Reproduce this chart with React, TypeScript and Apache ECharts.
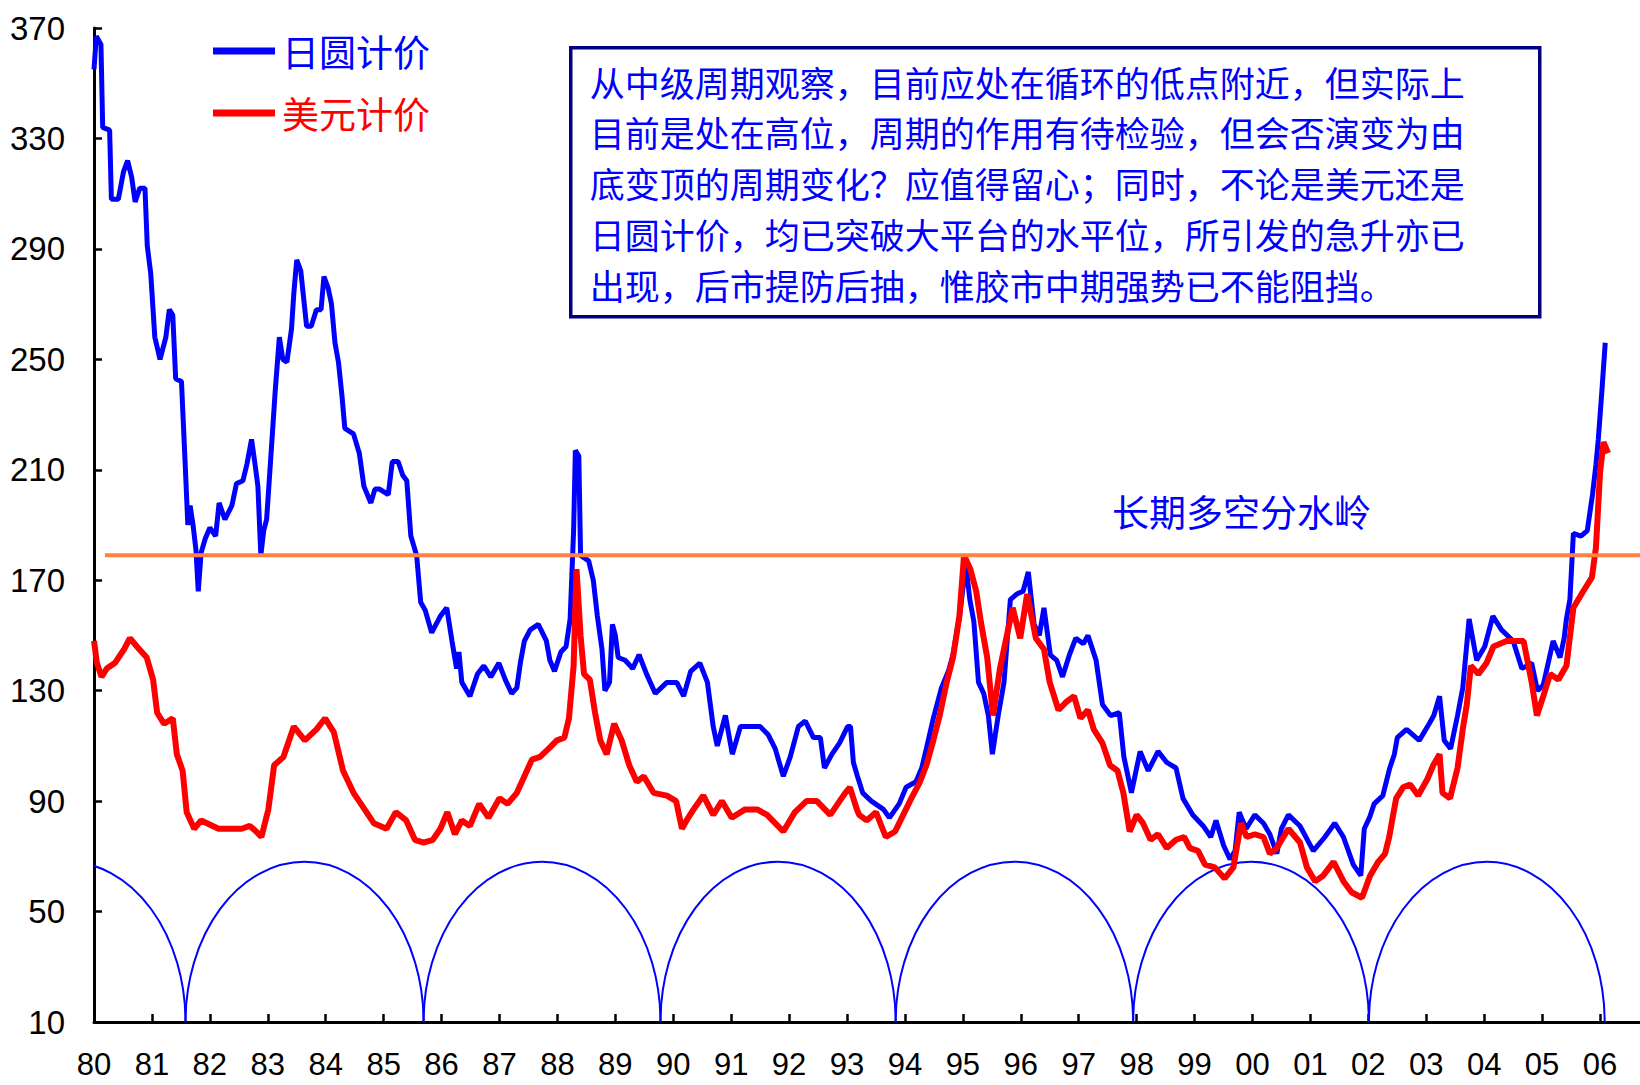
import React, { useEffect, useRef } from 'react';
import * as echarts from 'echarts';

// ---------------- data ----------------
const jpySeriesName = '日圆计价';
const usdSeriesName = '美元计价';

// 日圆计价 (year, index)
const jpyPrice: [number, number][] = [
  [1980.0, 355], [1980.04, 367], [1980.12, 364], [1980.15, 334], [1980.27, 333], [1980.3, 308],
  [1980.42, 308], [1980.51, 318], [1980.58, 322], [1980.65, 316], [1980.71, 307], [1980.79, 312],
  [1980.88, 312], [1980.92, 291], [1980.98, 281], [1981.05, 258], [1981.14, 250], [1981.24, 258],
  [1981.3, 268], [1981.36, 266], [1981.41, 243], [1981.51, 242], [1981.57, 214], [1981.62, 190],
  [1981.66, 197], [1981.71, 190], [1981.76, 181], [1981.8, 166], [1981.85, 180], [1981.92, 185],
  [1982.0, 189], [1982.1, 186], [1982.16, 198], [1982.26, 192], [1982.38, 197], [1982.46, 205],
  [1982.57, 206], [1982.64, 212], [1982.72, 221], [1982.78, 212], [1982.83, 204], [1982.88, 179],
  [1982.93, 188], [1982.98, 192], [1983.07, 220], [1983.13, 239], [1983.2, 258], [1983.26, 250],
  [1983.33, 249], [1983.41, 261], [1983.45, 274], [1983.5, 286], [1983.57, 282], [1983.63, 270],
  [1983.67, 262], [1983.75, 262], [1983.84, 268], [1983.92, 268], [1983.97, 280], [1984.04, 276],
  [1984.1, 270], [1984.16, 256], [1984.22, 249], [1984.28, 237], [1984.33, 225], [1984.48, 223],
  [1984.58, 216], [1984.66, 204], [1984.78, 198], [1984.85, 203], [1984.93, 203], [1985.08, 201],
  [1985.15, 213], [1985.25, 213], [1985.33, 208], [1985.4, 206], [1985.47, 186], [1985.57, 179],
  [1985.64, 162], [1985.72, 159], [1985.83, 151], [1985.98, 157], [1986.09, 160], [1986.18, 148],
  [1986.26, 138], [1986.3, 144], [1986.35, 133], [1986.49, 128], [1986.62, 136], [1986.73, 139],
  [1986.85, 135], [1986.99, 140], [1987.1, 134], [1987.21, 129], [1987.3, 131], [1987.36, 140],
  [1987.43, 148], [1987.53, 152], [1987.67, 154], [1987.81, 148], [1987.87, 141], [1987.95, 137],
  [1988.06, 144], [1988.15, 146], [1988.22, 156], [1988.28, 188], [1988.31, 217], [1988.37, 215],
  [1988.4, 179], [1988.54, 177], [1988.62, 170], [1988.69, 157], [1988.77, 145], [1988.82, 130],
  [1988.9, 133], [1988.95, 154], [1989.0, 150], [1989.05, 142], [1989.17, 141], [1989.3, 138],
  [1989.41, 143], [1989.54, 136], [1989.69, 129], [1989.89, 133], [1990.06, 133], [1990.18, 128],
  [1990.3, 137], [1990.46, 140], [1990.59, 133], [1990.69, 117], [1990.76, 110], [1990.9, 121],
  [1991.02, 107], [1991.16, 117], [1991.39, 117], [1991.5, 117], [1991.64, 114], [1991.76, 109],
  [1991.9, 99], [1992.02, 106], [1992.16, 117], [1992.28, 119], [1992.42, 113], [1992.54, 113],
  [1992.61, 102], [1992.74, 107], [1992.87, 111], [1993.01, 117], [1993.06, 117], [1993.11, 104],
  [1993.18, 99], [1993.27, 93], [1993.42, 90], [1993.63, 87], [1993.73, 84], [1993.8, 86],
  [1993.9, 89], [1994.02, 95], [1994.19, 97], [1994.29, 102], [1994.37, 109], [1994.49, 120],
  [1994.63, 131], [1994.75, 137], [1994.83, 143], [1994.95, 158], [1995.05, 176], [1995.12, 163],
  [1995.19, 155], [1995.27, 133], [1995.36, 129], [1995.44, 121], [1995.51, 107], [1995.61, 121],
  [1995.71, 133], [1995.82, 163], [1995.93, 165], [1996.04, 166], [1996.13, 173], [1996.23, 154],
  [1996.32, 150], [1996.4, 160], [1996.51, 143], [1996.62, 141], [1996.72, 135], [1996.84, 143],
  [1996.95, 149], [1997.08, 147], [1997.16, 150], [1997.3, 141], [1997.41, 125], [1997.55, 121],
  [1997.7, 122], [1997.78, 106], [1997.91, 93], [1998.06, 108], [1998.2, 101], [1998.37, 108],
  [1998.52, 104], [1998.68, 102], [1998.8, 91], [1998.97, 85], [1999.15, 81], [1999.28, 77],
  [1999.37, 83], [1999.5, 74], [1999.61, 69], [1999.7, 72], [1999.77, 86], [1999.89, 80],
  [2000.04, 85], [2000.19, 82], [2000.3, 78], [2000.42, 71], [2000.5, 80], [2000.62, 85],
  [2000.82, 81], [2001.05, 72], [2001.25, 77], [2001.42, 82], [2001.57, 77], [2001.74, 67],
  [2001.87, 63], [2001.93, 80], [2002.02, 84], [2002.1, 89], [2002.25, 92], [2002.37, 102],
  [2002.45, 107], [2002.5, 113], [2002.66, 116], [2002.88, 112], [2003.05, 118], [2003.13, 121],
  [2003.23, 128], [2003.31, 112], [2003.42, 109], [2003.54, 121], [2003.63, 131], [2003.74, 156],
  [2003.87, 141], [2004.01, 146], [2004.15, 157], [2004.3, 152], [2004.5, 148], [2004.65, 138],
  [2004.82, 140], [2004.92, 130], [2005.02, 132], [2005.19, 148], [2005.31, 142], [2005.38, 149],
  [2005.42, 156], [2005.48, 163], [2005.54, 187], [2005.67, 186], [2005.78, 188], [2005.87, 201],
  [2005.93, 212], [2005.97, 221], [2006.03, 238], [2006.09, 256],
];

// 美元计价 (year, index)
const usdPrice: [number, number][] = [
  [1980.0, 148], [1980.05, 140], [1980.13, 135], [1980.22, 138], [1980.36, 140], [1980.52, 145],
  [1980.62, 149], [1980.74, 146], [1980.91, 142], [1981.02, 134], [1981.09, 122], [1981.21, 118],
  [1981.36, 120], [1981.43, 107], [1981.53, 101], [1981.6, 86], [1981.73, 80], [1981.85, 83],
  [1981.95, 82], [1982.15, 80], [1982.35, 80], [1982.55, 80], [1982.69, 81], [1982.8, 79],
  [1982.89, 77], [1983.01, 87], [1983.11, 103], [1983.27, 106], [1983.45, 117], [1983.64, 112],
  [1983.84, 116], [1983.99, 120], [1984.14, 115], [1984.3, 101], [1984.48, 93], [1984.64, 88],
  [1984.83, 82], [1985.05, 80], [1985.21, 86], [1985.39, 83], [1985.54, 76], [1985.69, 75],
  [1985.85, 76], [1985.98, 80], [1986.1, 86], [1986.23, 78], [1986.35, 83], [1986.49, 81],
  [1986.65, 89], [1986.81, 84], [1987.0, 91], [1987.14, 89], [1987.3, 93], [1987.43, 99],
  [1987.56, 105], [1987.7, 106], [1987.85, 109], [1987.99, 112], [1988.12, 113], [1988.2, 120],
  [1988.28, 139], [1988.33, 174], [1988.4, 150], [1988.46, 136], [1988.56, 134], [1988.65, 122],
  [1988.74, 112], [1988.85, 107], [1988.98, 118], [1989.11, 112], [1989.24, 103], [1989.37, 97],
  [1989.49, 99], [1989.66, 93], [1989.89, 92], [1990.05, 90], [1990.15, 80], [1990.23, 83],
  [1990.35, 87], [1990.52, 92], [1990.69, 85], [1990.84, 90], [1991.01, 84], [1991.24, 87],
  [1991.45, 87], [1991.62, 85], [1991.9, 79], [1992.1, 86], [1992.3, 90], [1992.48, 90],
  [1992.71, 85], [1992.97, 93], [1993.05, 95], [1993.17, 87], [1993.21, 85], [1993.34, 83],
  [1993.5, 86], [1993.67, 77], [1993.83, 79], [1993.97, 85], [1994.11, 91], [1994.26, 97],
  [1994.37, 103], [1994.49, 112], [1994.6, 121], [1994.72, 133], [1994.83, 142], [1994.94, 157],
  [1995.02, 179], [1995.13, 174], [1995.23, 166], [1995.31, 155], [1995.42, 142], [1995.52, 121],
  [1995.64, 138], [1995.74, 148], [1995.86, 160], [1995.99, 149], [1996.11, 165], [1996.26, 149],
  [1996.4, 145], [1996.5, 133], [1996.65, 123], [1996.79, 126], [1996.92, 128], [1997.03, 120],
  [1997.16, 123], [1997.26, 116], [1997.41, 111], [1997.54, 103], [1997.67, 101], [1997.77, 93],
  [1997.88, 79], [1998.0, 85], [1998.11, 82], [1998.24, 76], [1998.37, 78], [1998.52, 73],
  [1998.68, 76], [1998.82, 77], [1998.92, 73], [1999.06, 72], [1999.18, 67], [1999.35, 66],
  [1999.52, 62], [1999.67, 66], [1999.8, 82], [1999.9, 77], [2000.04, 78], [2000.19, 77],
  [2000.3, 71], [2000.42, 73], [2000.62, 80], [2000.82, 75], [2000.94, 66], [2001.08, 61],
  [2001.22, 63], [2001.4, 68], [2001.57, 61], [2001.71, 57], [2001.89, 55], [2002.03, 63],
  [2002.17, 68], [2002.29, 71], [2002.36, 77], [2002.48, 91], [2002.6, 95], [2002.72, 96],
  [2002.86, 92], [2003.02, 98], [2003.12, 103], [2003.23, 107], [2003.28, 93], [2003.41, 91],
  [2003.54, 102], [2003.63, 116], [2003.7, 125], [2003.77, 139], [2003.9, 136], [2004.04, 140],
  [2004.16, 146], [2004.39, 148], [2004.68, 148], [2004.82, 133], [2004.91, 121], [2005.02, 128],
  [2005.14, 136], [2005.28, 134], [2005.42, 139], [2005.54, 160], [2005.71, 166], [2005.86, 171],
  [2005.93, 182], [2006.0, 209], [2006.06, 220], [2006.14, 216],
];

// cycle troughs (years) for the half-ellipse cycle arcs and their peak level
const cycleTroughs = [1977.5, 1981.58, 1985.69, 1989.78, 1993.84, 1997.94, 2002.01, 2006.08];
const cyclePeak = 68;
const cycleBase = 10;

// long-term watershed line
const watershedLevel = 179;
const watershedStart = 1980.19;
const watershedLabel = '长期多空分水岭';

// axes
const xMin = 1980;
const xMax = 2006.69;
const yearLabels = ['80', '81', '82', '83', '84', '85', '86', '87', '88', '89', '90', '91', '92',
  '93', '94', '95', '96', '97', '98', '99', '00', '01', '02', '03', '04', '05', '06'];
const yMin = 10;
const yMax = 370;
const yStep = 40;

const noteLines = [
  '从中级周期观察，目前应处在循环的低点附近，但实际上',
  '目前是处在高位，周期的作用有待检验，但会否演变为由',
  '底变顶的周期变化？应值得留心；同时，不论是美元还是',
  '日圆计价，均已突破大平台的水平位，所引发的急升亦已',
  '出现，后市提防后抽，惟胶市中期强势已不能阻挡。',
];

const axisFont = "'Liberation Sans', Arial, sans-serif";
const cjkFont = "'Noto Sans CJK SC', 'Noto Sans CJK JP', sans-serif";

export default function App() {
  const ref = useRef<HTMLDivElement>(null);

  useEffect(() => {
    if (!ref.current) return;
    const chart = echarts.init(ref.current, null, { renderer: 'svg' });

    const cycleArcs = cycleTroughs.slice(1).map((t, i) => [cycleTroughs[i], t, cycleBase]);

    const option: any = {
      animation: false,
      backgroundColor: '#ffffff',
      grid: { left: 94, top: 28, right: 0, bottom: 63, containLabel: false },
      legend: {
        left: 208,
        top: 26,
        orient: 'vertical',
        itemWidth: 62,
        itemHeight: 7,
        itemGap: 22,
        icon: 'rect',
        selectedMode: false,
        textStyle: { fontSize: 37, lineHeight: 40, fontFamily: cjkFont, padding: [0, 0, 0, 2] },
        data: [
          { name: jpySeriesName, textStyle: { color: '#0000ff' } },
          { name: usdSeriesName, textStyle: { color: '#ff0000' } },
        ],
      },
      xAxis: {
        type: 'value',
        min: xMin,
        max: xMax,
        interval: 1,
        axisLine: { show: true, lineStyle: { color: '#000', width: 3 } },
        axisTick: { show: true, inside: true, length: 8, lineStyle: { color: '#000', width: 2.5 } },
        splitLine: { show: false },
        axisLabel: {
          margin: 27,
          fontSize: 31,
          fontFamily: axisFont,
          color: '#000',
          showMaxLabel: false,
          formatter: (v: number) => {
            const r = Math.round(v);
            if (Math.abs(v - r) > 1e-6) return '';
            return yearLabels[r - xMin] ?? '';
          },
        },
      },
      yAxis: {
        type: 'value',
        min: yMin,
        max: yMax,
        interval: yStep,
        axisLine: { show: true, lineStyle: { color: '#000', width: 3 } },
        axisTick: { show: true, inside: true, length: 8, lineStyle: { color: '#000', width: 2.5 } },
        splitLine: { show: false },
        axisLabel: { margin: 29, fontSize: 33, fontFamily: axisFont, color: '#000' },
      },
      series: [
        {
          type: 'custom',
          name: 'cycle',
          clip: true,
          silent: true,
          encode: { x: [0, 1], y: 2 },
          data: cycleArcs,
          renderItem: (_params: any, api: any) => {
            const x0 = api.value(0) as number;
            const x1 = api.value(1) as number;
            const p0 = api.coord([x0, cycleBase]);
            const p1 = api.coord([x1, cycleBase]);
            const pTop = api.coord([(x0 + x1) / 2, cyclePeak]);
            const rx = (p1[0] - p0[0]) / 2;
            const ry = p0[1] - pTop[1];
            return {
              type: 'path',
              shape: { pathData: `M${p0[0]},${p0[1]} A${rx},${ry} 0 0 1 ${p1[0]},${p1[1]}` },
              style: { fill: 'none', stroke: '#0000ff', lineWidth: 2 },
            };
          },
        },
        {
          type: 'line',
          name: jpySeriesName,
          data: jpyPrice,
          symbol: 'none',
          clip: true,
          itemStyle: { color: '#0000ff' },
          lineStyle: { color: '#0000ff', width: 5 },
        },
        {
          type: 'line',
          name: usdSeriesName,
          data: usdPrice,
          symbol: 'none',
          clip: true,
          itemStyle: { color: '#ff0000' },
          lineStyle: { color: '#ff0000', width: 6 },
        },
        {
          type: 'line',
          name: watershedLabel,
          data: [[watershedStart, watershedLevel], [xMax, watershedLevel]],
          symbol: 'none',
          clip: true,
          silent: true,
          lineStyle: { color: '#ff8040', width: 4 },
        },
      ],
      graphic: [
        {
          type: 'text',
          left: 1112,
          top: 492,
          style: {
            text: watershedLabel,
            fontSize: 37,
            fontFamily: cjkFont,
            fill: '#0000ff',
          },
        },
        {
          type: 'group',
          left: 569,
          top: 46,
          children: [
            {
              type: 'rect',
              shape: { x: 0, y: 0, width: 969, height: 269 },
              style: { fill: '#ffffff', stroke: '#000080', lineWidth: 3.5 },
            },
            {
              type: 'text',
              x: 19,
              y: 8,
              style: {
                text: noteLines.join('\n'),
                fontSize: 35,
                lineHeight: 50.8,
                fontFamily: cjkFont,
                fill: '#0000ff',
              },
            },
          ],
        },
      ],
    };

    chart.setOption(option);
    return () => chart.dispose();
  }, []);

  return (
    <div
      ref={ref}
      style={{ position: 'absolute', left: 0, top: 0, width: 1640, height: 1085, background: '#fff' }}
    />
  );
}
